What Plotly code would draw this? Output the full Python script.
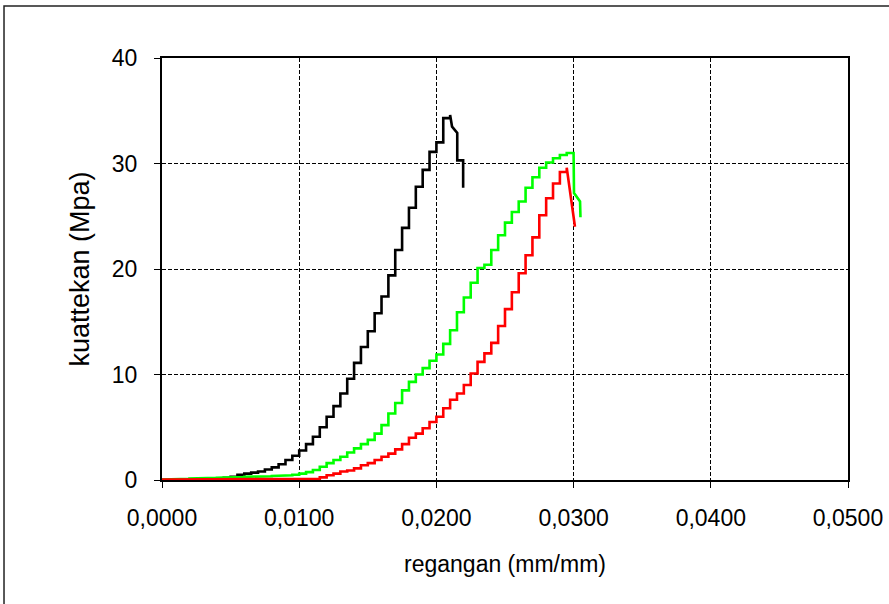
import plotly.graph_objects as go

# strain (mm/mm) at each dial step
strain = [0.0000, 0.0005, 0.0010, 0.0015, 0.0020, 0.0025, 0.0030, 0.0035, 0.0040, 0.0045,
          0.0050, 0.0055, 0.0060, 0.0065, 0.0070, 0.0075, 0.0080, 0.0085, 0.0090, 0.0095,
          0.0100, 0.0105, 0.0110, 0.0115, 0.0120, 0.0125, 0.0130, 0.0135, 0.0140, 0.0145,
          0.0150, 0.0155, 0.0160, 0.0165, 0.0170, 0.0175, 0.0180, 0.0185, 0.0190, 0.0195,
          0.0200, 0.0205, 0.0210, 0.0215, 0.0220, 0.0225, 0.0230, 0.0235, 0.0240, 0.0245,
          0.0250, 0.0255, 0.0260, 0.0265, 0.0270, 0.0275, 0.0280, 0.0285, 0.0290, 0.0295,
          0.0300]

# stress (MPa) - black specimen
black_stress = [0.0, 0.0, 0.0, 0.0, 0.0, 0.0, 0.0, 0.05, 0.1, 0.2,
                0.3, 0.5, 0.6, 0.7, 0.8, 1.0, 1.2, 1.5, 1.9, 2.3,
                2.8, 3.4, 4.1, 5.0, 6.0, 7.0, 8.2, 9.6, 11.1, 12.6,
                14.1, 15.8, 17.4, 19.4, 21.8, 23.9, 25.8, 27.8, 29.4, 31.1,
                32.0, 34.3, 34.6]
black_tail_strain = [0.02114, 0.02152, 0.02152, 0.02195, 0.02195]
black_tail_stress = [33.5, 32.9, 30.3, 30.3, 27.7]

# green specimen
green_stress = [0.05, 0.08, 0.1, 0.12, 0.14, 0.16, 0.18, 0.2, 0.22, 0.24,
                0.26, 0.28, 0.3, 0.32, 0.34, 0.36, 0.38, 0.4, 0.45, 0.5,
                0.6, 0.75, 0.95, 1.25, 1.6, 1.9, 2.2, 2.6, 3.0, 3.4,
                3.8, 4.4, 5.2, 6.3, 7.3, 8.5, 9.3, 10.0, 10.6, 11.3,
                11.9, 12.9, 14.2, 15.9, 17.3, 18.7, 20.1, 20.4, 21.8, 23.2,
                24.4, 25.4, 26.4, 27.7, 28.7, 29.6, 30.1, 30.5, 30.8, 31.0,
                30.8]
green_tail_strain = [0.03003, 0.03047, 0.03050]
green_tail_stress = [27.2, 26.4, 24.9]

# red specimen
red_stress = [0.05, 0.05, 0.05, 0.05, 0.05, 0.05, 0.05, 0.05, 0.05, 0.05,
              0.05, 0.05, 0.05, 0.05, 0.05, 0.05, 0.05, 0.05, 0.05, 0.05,
              0.05, 0.05, 0.1, 0.25, 0.45, 0.6, 0.8, 0.9, 1.1, 1.4,
              1.6, 1.9, 2.2, 2.5, 2.9, 3.4, 4.0, 4.4, 4.9, 5.5,
              6.0, 6.8, 7.6, 8.2, 9.0, 10.1, 11.2, 12.0, 13.0, 14.6,
              16.2, 17.8, 19.6, 21.3, 23.0, 25.1, 26.7, 28.1, 29.2, 29.6]
red_tail_strain = [0.03010]
red_tail_stress = [24.0]

x_ticks = [0.00, 0.01, 0.02, 0.03, 0.04, 0.05]
y_ticks = [0, 10, 20, 30, 40]


def staircase(xs, ys, tx, ty):
    px, py = [xs[0]], [ys[0]]
    for i in range(1, len(ys)):
        px += [xs[i], xs[i]]
        py += [ys[i - 1], ys[i]]
    return px + list(tx), py + list(ty)


fig = go.Figure()
for ys, tx, ty, col in [
    (black_stress, black_tail_strain, black_tail_stress, "#000000"),
    (green_stress, green_tail_strain, green_tail_stress, "#00FF00"),
    (red_stress, red_tail_strain, red_tail_stress, "#FF0000"),
]:
    px, py = staircase(strain[:len(ys)], ys, tx, ty)
    fig.add_trace(go.Scatter(x=px, y=py, mode="lines",
                             line=dict(color=col, width=2.6), showlegend=False,
                             hoverinfo="skip"))

font = dict(family="Liberation Sans, Arial, sans-serif", size=23, color="#000000")
ytitle_font = dict(family="Liberation Sans, Arial, sans-serif", size=27, color="#000000")

fig.update_layout(
    width=889, height=604,
    margin=dict(l=162, r=41, t=58, b=124, autoexpand=False),
    paper_bgcolor="white", plot_bgcolor="white",
    separators=", ",
    font=font,
    showlegend=False,
    shapes=[dict(type="rect", xref="paper", yref="paper",
                 x0=-0.2303, x1=1.07, y0=-0.32, y1=1.1232,
                 line=dict(color="#222222", width=1.5), layer="below")],
)
fig.update_xaxes(range=[0, 0.05], tickvals=x_ticks, tickformat=".4f",
                 showgrid=True, gridcolor="#000000", gridwidth=1, griddash="4px,2px",
                 showline=True, mirror=True, linecolor="#000000", linewidth=2,
                 ticks="outside", ticklen=6, tickcolor="#000000", tickwidth=1,
                 ticklabelstandoff=10, automargin=False,
                 zeroline=False, tickfont=font,
                 title=dict(text="regangan (mm/mm)", font=font, standoff=26))
fig.update_yaxes(range=[0, 40], tickvals=y_ticks,
                 showgrid=True, gridcolor="#000000", gridwidth=1, griddash="4px,2px",
                 showline=True, mirror=True, linecolor="#000000", linewidth=2,
                 ticks="outside", ticklen=6, tickcolor="#000000", tickwidth=1,
                 ticklabelstandoff=12, automargin=False,
                 zeroline=False, tickfont=font,
                 title=dict(text="kuattekan (Mpa)", font=ytitle_font, standoff=14))

fig.write_html("out.html", config={"displayModeBar": False},
               post_script="document.body.style.margin='0';")
